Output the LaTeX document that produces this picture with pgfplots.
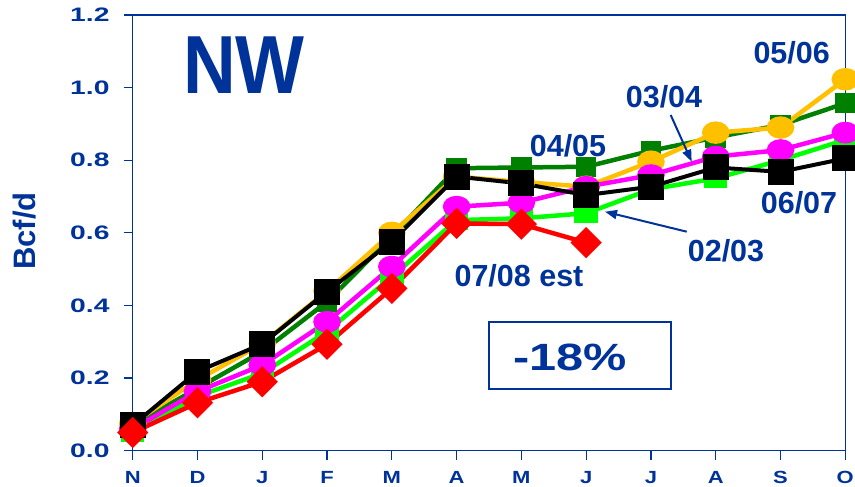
\documentclass[border=0pt]{standalone}
\usepackage{fontspec}
\usepackage{pgfplots}
\pgfplotsset{compat=1.18}
\usetikzlibrary{arrows.meta}
\setmainfont{Liberation Sans}
\newfontfamily\ytickfont{Liberation Sans}[FakeStretch=1.45]
\newfontfamily\xtickfont{Liberation Sans}[FakeStretch=1.25]
\newfontfamily\nwfont{Liberation Sans}[FakeStretch=0.886]
\newfontfamily\pctfont{Liberation Sans}[FakeStretch=1.28]
\definecolor{tblue}{RGB}{0,51,153}
\definecolor{gold}{RGB}{255,192,0}
\definecolor{dgreen}{RGB}{0,128,0}
\definecolor{bgreen}{RGB}{0,255,0}
\definecolor{mag}{RGB}{255,0,255}
\pgfplotstableread{
x y
0 0.075
1 0.195
2 0.295
3 0.44
4 0.60
5 0.755
6 0.74
7 0.727
8 0.796
9 0.876
10 0.89
11 1.023
}\goldtab
\pgfplotstableread{
x y
0 0.07
1 0.172
2 0.273
3 0.41
4 0.59
5 0.778
6 0.78
7 0.782
8 0.826
9 0.863
10 0.897
11 0.957
}\dgreentab
\pgfplotstableread{
x y
0 0.05
1 0.15
2 0.213
3 0.328
4 0.479
5 0.635
6 0.64
7 0.654
8 0.72
9 0.75
10 0.80
11 0.856
}\bgreentab
\pgfplotstableread{
x y
0 0.06
1 0.163
2 0.236
3 0.355
4 0.507
5 0.672
6 0.683
7 0.727
8 0.759
9 0.81
10 0.828
11 0.876
}\magtab
\pgfplotstableread{
x y
0 0.07
1 0.218
2 0.294
3 0.438
4 0.576
5 0.755
6 0.736
7 0.704
8 0.727
9 0.78
10 0.768
11 0.805
}\blacktab
\pgfplotstableread{
x y
0 0.05
1 0.132
2 0.19
3 0.293
4 0.447
5 0.626
6 0.624
7 0.573
}\redtab
\begin{document}
\begin{tikzpicture}
\path[use as bounding box] (-132.7pt,-36.3pt) rectangle (722.3pt,450.7pt);
\begin{axis}[at={(0pt,0pt)}, anchor=south west, scale only axis,
  width=712.6pt, height=435.7pt,
  xmin=0, xmax=11, ymin=0, ymax=1.2, clip=false,
  axis line style={tblue, line width=1.5pt},
  xtick={0,...,11}, xticklabels={N,D,J,F,M,A,M,J,J,A,S,O},
  ytick={0,0.2,0.4,0.6,0.8,1.0,1.2}, yticklabels={0.0,0.2,0.4,0.6,0.8,1.0,1.2},
  xtick pos=left, ytick pos=left,
  tick align=outside, major tick length=9pt,
  tick style={tblue, line width=1.3pt},
  xticklabel style={font=\xtickfont\bfseries\fontsize{17.6pt}{18pt}\selectfont, text=tblue, inner sep=0pt, anchor=north, yshift=-11.5pt},
  yticklabel style={font=\ytickfont\bfseries\fontsize{19.5pt}{20pt}\selectfont, text=tblue, inner sep=0pt, anchor=east, xshift=-14pt},
]
\addplot[dgreen, line width=4.5pt, mark=square*, mark size=8pt, mark options={solid, draw=none, fill=dgreen}] table {\dgreentab};
\addplot[gold, line width=4.5pt, mark=*, mark size=11.5pt, mark options={solid, draw=none, fill=gold, yscale=0.78}] table {\goldtab};
\addplot[bgreen, line width=4.5pt, mark=square*, mark size=9.5pt, mark options={solid, draw=none, fill=bgreen, yscale=0.8}] table {\bgreentab};
\addplot[mag, line width=4.5pt, mark=*, mark size=11.5pt, mark options={solid, draw=none, fill=mag, yscale=0.75}] table {\magtab};
\addplot[black, line width=4pt, mark=square*, mark size=11pt, mark options={solid, draw=none, fill=black}] table {\blacktab};
\addplot[red, line width=4.5pt, mark=square*, mark size=8.8pt, mark options={solid, draw=none, fill=red, rotate=45}] table {\redtab};
\end{axis}
\node[anchor=base, text=tblue, inner sep=0pt, font=\nwfont\bfseries\fontsize{82.4pt}{84pt}\selectfont] at (111.3pt,356.7pt) {NW};
\node[anchor=base, rotate=90, text=tblue, inner sep=0pt, font=\bfseries\fontsize{31pt}{32pt}\selectfont] at (-96.7pt,219.7pt) {Bcf/d};
\begin{scope}[every node/.style={anchor=base, text=tblue, inner sep=0pt, font=\bfseries\fontsize{30.5pt}{32pt}\selectfont}]
\node at (659pt,386.7pt) {05/06};
\node at (531.3pt,343.4pt) {03/04};
\node at (435.3pt,294pt) {04/05};
\node at (666.3pt,237.4pt) {06/07};
\node at (593.3pt,189pt) {02/03};
\node at (386.3pt,164pt) {07/08 est};
\end{scope}
\draw[tblue, line width=2pt] (356.3pt,61.7pt) rectangle (538pt,129pt);
\node[anchor=base, text=tblue, inner sep=0pt, font=\pctfont\bfseries\fontsize{38pt}{40pt}\selectfont] at (437.1pt,80pt) {-18\%};
\draw[tblue, line width=2pt, -{Triangle[length=12pt, width=9pt]}] (538pt,335.7pt) -- (559pt,289pt);
\draw[tblue, line width=2pt, -{Triangle[length=12pt, width=9pt]}] (554pt,219pt) -- (472.3pt,239pt);
\end{tikzpicture}
\end{document}
